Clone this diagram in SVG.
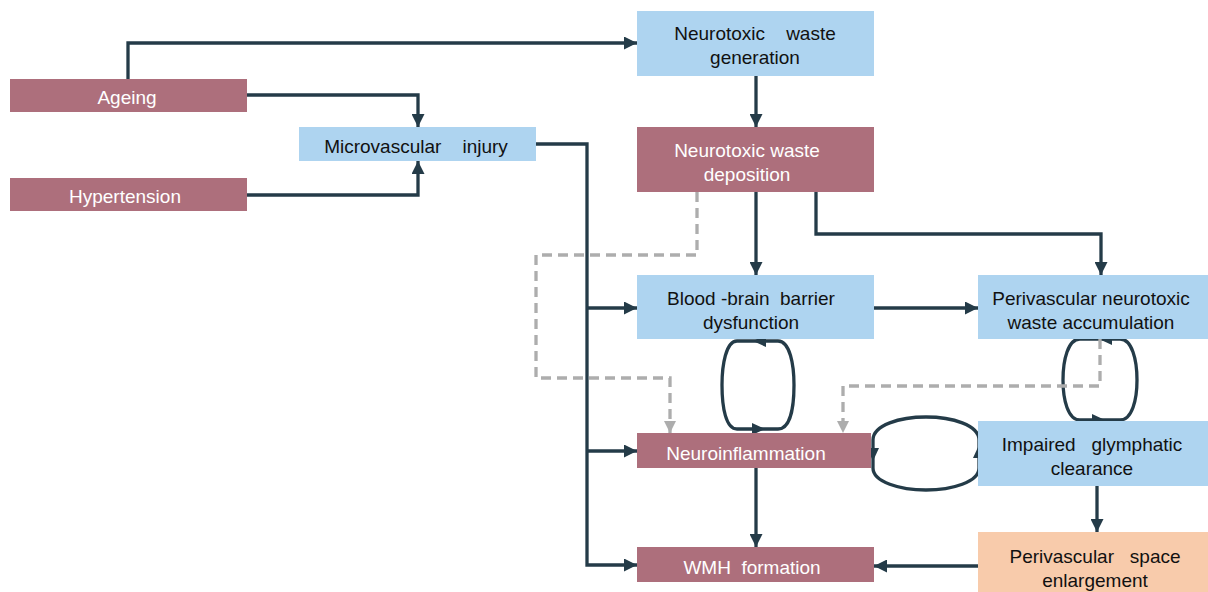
<svg xmlns="http://www.w3.org/2000/svg" width="1208" height="592" viewBox="0 0 1208 592">
<defs>
<style>
.m{fill:#AD6F7C}
.b{fill:#AED4F0}
.p{fill:#F8CBAB}
text{font-family:"Liberation Sans",Arial,sans-serif;font-size:19px;text-anchor:middle;white-space:pre}
.tw{fill:#FFFFFF}
.tk{fill:#111111}
.c{fill:none;stroke:#243B48;stroke-width:3.3}
.d{fill:none;stroke:#ADADAD;stroke-width:3.3;stroke-dasharray:10 6}
.ah{fill:#243B48}
.ag{fill:#ADADAD}
</style>
<marker id="arr" markerUnits="userSpaceOnUse" markerWidth="13" markerHeight="13" refX="13" refY="6.5" orient="auto">
<path d="M0,0 L13,6.5 L0,13 z" fill="#243B48"/>
</marker>
<marker id="arrg" markerUnits="userSpaceOnUse" markerWidth="12" markerHeight="12" refX="12" refY="6" orient="auto">
<path d="M0,0 L12,6 L0,12 z" fill="#ADADAD"/>
</marker>
</defs>
<rect width="1208" height="592" fill="#FFFFFF"/>

<g id="connectors">
<path class="c" d="M128 79 V43 H637" marker-end="url(#arr)"/>
<path class="c" d="M247 95 H418 V127" marker-end="url(#arr)"/>
<path class="c" d="M247 195 H418 V161" marker-end="url(#arr)"/>
<path class="c" d="M536 144 H587 V565 H637" marker-end="url(#arr)"/>
<path class="c" d="M587 308 H637" marker-end="url(#arr)"/>
<path class="c" d="M587 451 H637" marker-end="url(#arr)"/>
<path class="c" d="M756 76 V127" marker-end="url(#arr)"/>
<path class="c" d="M756 192 V275" marker-end="url(#arr)"/>
<path class="c" d="M816 192 V234 H1101 V275" marker-end="url(#arr)"/>
<path class="c" d="M874 308 H978" marker-end="url(#arr)"/>
<path class="c" d="M756 468 V547" marker-end="url(#arr)"/>
<path class="c" d="M1097 486 V532" marker-end="url(#arr)"/>
<path class="c" d="M978 566 H874" marker-end="url(#arr)"/>
<path class="c" d="M737 341 L778 341 C790 341 794 365 794 385 C794 408 790 429 778 429 L737 429 C726 429 722 408 722 385 C722 365 726 341 737 341 Z"/>
<polygon class="ah" points="753,341 766,335 766,347"/>
<polygon class="ah" points="765,429 752,423 752,435"/>
<path class="c" d="M1080 339 L1120 339 C1132 339 1137 360 1137 380 C1137 400 1132 420 1120 420 L1080 420 C1068 420 1063 400 1063 380 C1063 360 1068 339 1080 339 Z"/>
<polygon class="ah" points="1099,339 1112,333 1112,345"/>
<polygon class="ah" points="1105,420 1092,414 1092,426"/>
<path class="c" d="M873 440 C873 425 900 417 926 417 C952 417 979 425 979 440 L979 468 C979 482 952 490 926 490 C900 490 873 482 873 468 Z"/>
<polygon class="ah" points="873,461 867,448 879,448"/>
<polygon class="ah" points="979,445 973,458 985,458"/>
<path class="d" d="M697 192 V255 H536 V378 H670 V433" marker-end="url(#arrg)"/>
<path class="d" d="M1100 339 V386 H843 V433" marker-end="url(#arrg)"/>
</g>

<g id="ageing"><rect class="m" x="10" y="79" width="237" height="33"/><text class="tw" x="127" y="104">Ageing</text></g>
<g id="hypertension"><rect class="m" x="10" y="178" width="237" height="33"/><text class="tw" x="125" y="203">Hypertension</text></g>
<g id="microvascular"><rect class="b" x="299" y="127" width="237" height="34"/><text class="tk" x="416" y="153">Microvascular    injury</text></g>
<g id="generation"><rect class="b" x="637" y="11" width="237" height="65"/><text class="tk" x="755" y="40">Neurotoxic    waste</text><text class="tk" x="755" y="64">generation</text></g>
<g id="deposition"><rect class="m" x="637" y="127" width="237" height="65"/><text class="tw" x="747" y="157">Neurotoxic waste</text><text class="tw" x="747" y="181">deposition</text></g>
<g id="bbb"><rect class="b" x="637" y="275" width="237" height="64"/><text class="tk" x="751" y="305">Blood -brain  barrier</text><text class="tk" x="751" y="329">dysfunction</text></g>
<g id="accumulation"><rect class="b" x="978" y="275" width="230" height="64"/><text class="tk" x="1091" y="305">Perivascular neurotoxic</text><text class="tk" x="1091" y="329">waste accumulation</text></g>
<g id="neuroinflammation"><rect class="m" x="637" y="433" width="234" height="35"/><text class="tw" x="746" y="460">Neuroinflammation</text></g>
<g id="glymphatic"><rect class="b" x="978" y="421" width="230" height="65"/><text class="tk" x="1092" y="451">Impaired   glymphatic</text><text class="tk" x="1092" y="475">clearance</text></g>
<g id="wmh"><rect class="m" x="637" y="547" width="237" height="35"/><text class="tw" x="752" y="574">WMH  formation</text></g>
<g id="pvs"><rect class="p" x="978" y="532" width="230" height="68"/><text class="tk" x="1095" y="563">Perivascular   space</text><text class="tk" x="1095" y="587">enlargement</text></g>
</svg>
